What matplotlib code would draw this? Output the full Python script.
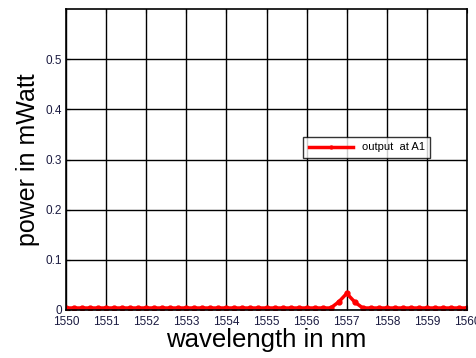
import numpy as np
import matplotlib
matplotlib.use("Agg")
import matplotlib.pyplot as plt

plt.rcParams['font.family'] = ['Liberation Sans', 'DejaVu Sans']

# data
wavelength = [1550.0 + 0.2 * i for i in range(51)]
baseline = 0.004
peak_wl = [1556.8, 1557.0, 1557.2]
peak_val = [0.016, 0.033, 0.016]
power = []
for w in wavelength:
    v = baseline
    for pw, pv in zip(peak_wl, peak_val):
        if abs(w - pw) < 1e-6:
            v = pv
    power.append(v)

xticks = list(range(1550, 1561))
yticks = [0, 0.1, 0.2, 0.3, 0.4, 0.5]
ytick_labels = ['0', '0.1', '0.2', '0.3', '0.4', '0.5']

fig = plt.figure(figsize=(4.77, 3.58), dpi=100)
ax = fig.add_axes([66/477, 1 - 310/358, 401/477, 301/358])
ax.plot(wavelength, power, color='#ff0000', lw=2.5, marker='o', ms=3.5,
        label='output  at A1')
ax.set_xlim(1550, 1560)
ax.set_ylim(0, 0.6)
ax.set_xticks(xticks)
ax.set_yticks(yticks)
ax.set_yticklabels(ytick_labels)
ax.grid(True, color='black', lw=1.0)
ax.tick_params(direction='in', length=3, top=True, right=True,
               labelsize=8.5, labelcolor='#1a1a40')
ax.tick_params(axis='x', pad=4)
ax.tick_params(axis='y', pad=3)
for s in ax.spines.values():
    s.set_linewidth(1.2)
ax.set_xlabel('wavelength in nm', fontsize=18.5, labelpad=0)
ax.set_ylabel('power in mWatt', fontsize=18, labelpad=4)
leg = ax.legend(loc='center', bbox_to_anchor=(0.75, 0.54), fontsize=8,
                frameon=True, fancybox=False, edgecolor='black',
                handlelength=4, borderpad=0.5, markerscale=0.6)
leg.get_frame().set_linewidth(1.0)
fig.savefig('out.png', dpi=100)
